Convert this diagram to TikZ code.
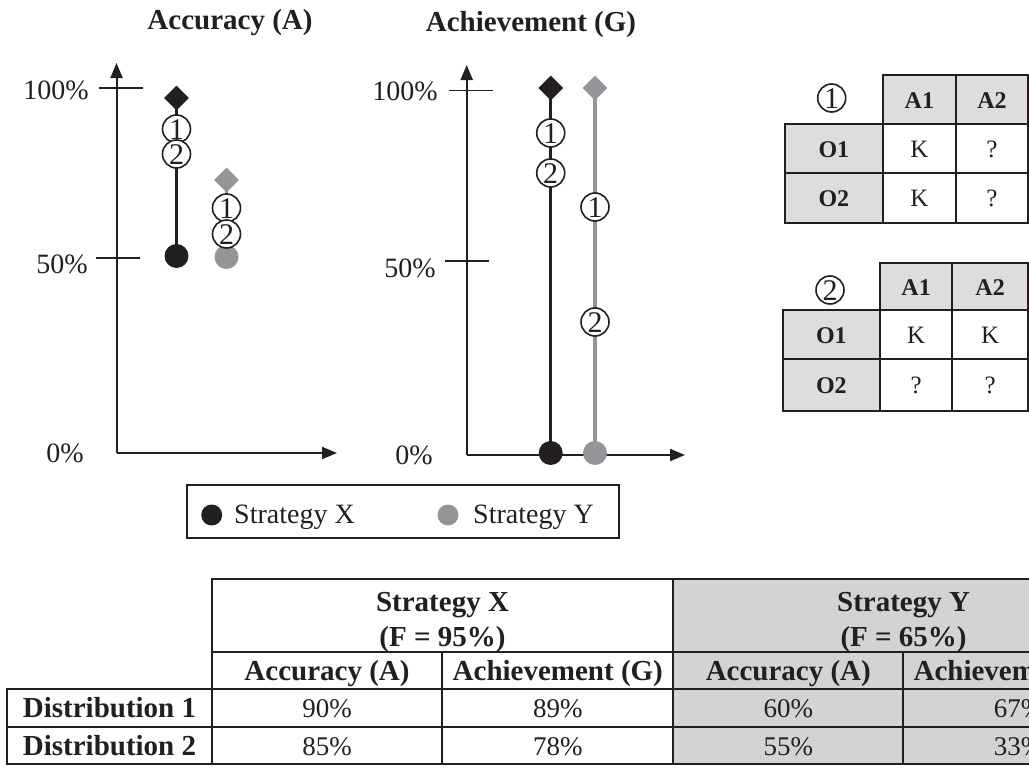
\documentclass[tikz,border=0pt]{standalone}
\usepackage{fontspec}
\setmainfont{Liberation Serif}
\usetikzlibrary{shapes.geometric,arrows.meta,backgrounds}

\definecolor{ink}{HTML}{231F20}
\definecolor{markgray}{HTML}{939598}
\definecolor{cellgray}{HTML}{DCDDDE}
\definecolor{tabgray}{HTML}{D1D3D4}

\newcommand{\fs}[1]{\fontsize{#1}{#1}\selectfont}
% rectangular table cell given by its corners: name, x1, y1, x2, y2, style, text
\newcommand{\cellat}[7]{%
  \node[cellbox,#6,minimum width={(#4)-(#2)},minimum height={(#5)-(#3)}]
    (#1) at ({((#2)+(#4))/2},{((#3)+(#5))/2}) {#7};}

\begin{document}
\begin{tikzpicture}[x=1pt,y=-1pt,
  axis/.style={draw=ink,line width=2pt,-{Triangle[length=15pt,width=12pt]}},
  tick/.style={draw=ink,line width=1.6pt},
  ylab/.style={anchor=east,inner sep=0pt,text height=19pt,text depth=0pt,font=\fs{28},text=ink},
  title/.style={anchor=base,inner sep=0pt,font=\bfseries\fs{29},text=ink},
  xmark/.style={diamond,aspect=1,fill=ink,inner sep=0pt,minimum size=25pt},
  ymark/.style={xmark,fill=markgray},
  xdot/.style={circle,fill=ink,inner sep=0pt,minimum size=24pt},
  ydot/.style={xdot,fill=markgray},
  circnum/.style={circle,draw=ink,fill=white,line width=1.6pt,inner sep=0pt,
    minimum size=28pt,text height=20pt,text depth=0pt,font=\fs{30},text=ink},
  xline/.style={draw=ink,line width=3.2pt},
  yline/.style={draw=markgray,line width=3.2pt},
  cellbox/.style={draw=ink,line width=2pt,inner sep=0pt,outer sep=0pt,
    text height=20pt,text depth=0pt,font=\bfseries\fs{29},text=ink},
  small/.style={text height=17.5pt,font=\bfseries\fs{24}},
  smallreg/.style={text height=17.5pt,font=\fs{25}},
  val/.style={font=\fs{27}},
  hdr/.style={anchor=base,inner sep=0pt,font=\bfseries\fs{29},text=ink},
  leg/.style={anchor=base west,inner sep=0pt,font=\fs{28},text=ink}]

\useasboundingbox (0,0) rectangle (1029,771);
\clip (0,0) rectangle (1029,771);

% ---------- Accuracy plot ----------
\node[title] (titleA) at (230,30) {Accuracy (A)};
\coordinate (oA) at (116.5,453);
\coordinate (yA) at (116.5,63);
\coordinate (xA) at (337,453);
\draw[axis] (oA) -- (yA);
\draw[axis] (oA) -- (xA);
\draw[tick] (99,88) -- (143,88);
\draw[tick] (96,258) -- (140,258);
\node[ylab] (a100) at (89,90) {100\%};
\node[ylab] (a50) at (88,264) {50\%};
\node[ylab] (a0) at (84,453) {0\%};

\node[xmark] (axd) at (176.5,98) {};
\node[xdot] (axo) at (176.5,256) {};
\node[circnum] (ax1) at (176.5,129) {1};
\node[circnum] (ax2) at (176.5,154) {2};

\node[ymark] (ayd) at (226.5,180) {};
\node[ydot] (ayo) at (226.5,257) {};
\node[circnum] (ay1) at (226.5,208) {1};
\node[circnum] (ay2) at (226.5,234) {2};

% ---------- Achievement plot ----------
\node[title] (titleG) at (531,31) {Achievement (G)};
\coordinate (oG) at (466.7,455);
\coordinate (yG) at (466.7,65);
\coordinate (xG) at (685,455);
\draw[axis] (oG) -- (yG);
\draw[axis] (oG) -- (xG);
\draw[tick] (449,90.5) -- (493,90.5);
\draw[tick] (445,261) -- (489,261);
\node[ylab] (g100) at (438,91) {100\%};
\node[ylab] (g50) at (436,268) {50\%};
\node[ylab] (g0) at (433,455) {0\%};

\node[xmark] (gxd) at (550.7,88) {};
\node[xdot] (gxo) at (550.7,453) {};
\node[circnum] (gx1) at (550.7,133) {1};
\node[circnum] (gx2) at (550.7,173) {2};

\node[ymark] (gyd) at (595,88) {};
\node[ydot] (gyo) at (595,453) {};
\node[circnum] (gy1) at (595,207) {1};
\node[circnum] (gy2) at (595,322) {2};

\begin{pgfonlayer}{background}
  \draw[xline] (axd.center) -- (axo.center);
  \draw[yline] (ayd.center) -- (ayo.center);
  \draw[xline] (gxd.center) -- (gxo.center);
  \draw[yline] (gyd.center) -- (gyo.center);
\end{pgfonlayer}

% ---------- legend ----------
\node[draw=ink,line width=2pt,minimum width=432pt,minimum height=53pt,inner sep=0pt]
  (legend) at (403,511.5) {};
\node[circle,fill=ink,inner sep=0pt,minimum size=21pt] (legx) at (211.7,515) {};
\node[leg] (legxt) at (234,523) {Strategy X};
\node[circle,fill=markgray,inner sep=0pt,minimum size=21pt] (legy) at (448,515) {};
\node[leg] (legyt) at (473,523) {Strategy Y};

% ---------- knowledge table 1 ----------
\node[circnum] (k1) at (831.7,98) {1};
\cellat{t1a1}{882.7}{75}{956}{124}{small,fill=cellgray}{A1}
\cellat{t1a2}{956}{75}{1028}{124}{small,fill=cellgray}{A2}
\cellat{t1o1}{785}{124}{882.7}{172.7}{small,fill=cellgray}{O1}
\cellat{t1c11}{882.7}{124}{956}{172.7}{smallreg}{K}
\cellat{t1c12}{956}{124}{1028}{172.7}{smallreg}{?}
\cellat{t1o2}{785}{172.7}{882.7}{223.3}{small,fill=cellgray}{O2}
\cellat{t1c21}{882.7}{172.7}{956}{223.3}{smallreg}{K}
\cellat{t1c22}{956}{172.7}{1028}{223.3}{smallreg}{?}

% ---------- knowledge table 2 ----------
\node[circnum] (k2) at (830,290) {2};
\cellat{t2a1}{880}{262.7}{952.3}{310}{small,fill=cellgray}{A1}
\cellat{t2a2}{952.3}{262.7}{1028}{310}{small,fill=cellgray}{A2}
\cellat{t2o1}{782.7}{310}{880}{359.3}{small,fill=cellgray}{O1}
\cellat{t2c11}{880}{310}{952.3}{359.3}{smallreg}{K}
\cellat{t2c12}{952.3}{310}{1028}{359.3}{smallreg}{K}
\cellat{t2o2}{782.7}{359.3}{880}{410.7}{small,fill=cellgray}{O2}
\cellat{t2c21}{880}{359.3}{952.3}{410.7}{smallreg}{?}
\cellat{t2c22}{952.3}{359.3}{1028}{410.7}{smallreg}{?}

% ---------- results table ----------
\cellat{hx}{211.7}{578.5}{673.3}{652}{}{}
\cellat{hy}{673.3}{578.5}{1134}{652}{fill=tabgray}{}
\node[hdr] (hxa) at (442.5,611) {Strategy X};
\node[hdr] (hxb) at (442.5,646) {(F = 95\%)};
\node[hdr] (hya) at (903.6,611) {Strategy Y};
\node[hdr] (hyb) at (903.6,646) {(F = 65\%)};

\cellat{sxa}{211.7}{652}{442.3}{688.5}{}{Accuracy (A)}
\cellat{sxg}{442.3}{652}{673.3}{688.5}{}{Achievement (G)}
\cellat{sya}{673.3}{652}{903.3}{688.5}{fill=tabgray}{Accuracy (A)}
\cellat{syg}{903.3}{652}{1134}{688.5}{fill=tabgray}{Achievement (G)}

\cellat{d1}{7.3}{688.5}{211.7}{727}{}{Distribution 1}
\cellat{d1xa}{211.7}{688.5}{442.3}{727}{val}{90\%}
\cellat{d1xg}{442.3}{688.5}{673.3}{727}{val}{89\%}
\cellat{d1ya}{673.3}{688.5}{903.3}{727}{val,fill=tabgray}{60\%}
\cellat{d1yg}{903.3}{688.5}{1134}{727}{val,fill=tabgray}{67\%}

\cellat{d2}{7.3}{727}{211.7}{764}{}{Distribution 2}
\cellat{d2xa}{211.7}{727}{442.3}{764}{val}{85\%}
\cellat{d2xg}{442.3}{727}{673.3}{764}{val}{78\%}
\cellat{d2ya}{673.3}{727}{903.3}{764}{val,fill=tabgray}{55\%}
\cellat{d2yg}{903.3}{727}{1134}{764}{val,fill=tabgray}{33\%}
\end{tikzpicture}
\end{document}
